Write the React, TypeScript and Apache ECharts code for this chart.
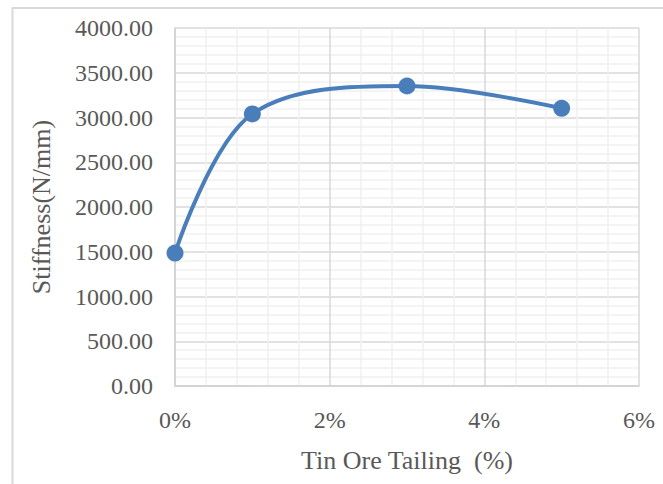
import React, { useEffect, useRef } from "react";
import * as echarts from "echarts";

const xValues = [0, 1, 3, 5];
const stiffness = [1485, 3040, 3352, 3103];
const xTicksMax = 6;
const yTicksMax = 4000;

export default function App() {
  const ref = useRef<HTMLDivElement>(null);
  useEffect(() => {
    if (!ref.current) return;
    const chart = echarts.init(ref.current, null, { renderer: "svg" });
    const font = "'Liberation Serif', 'Times New Roman', serif";
    const textColor = "#595959";
    chart.setOption({
      animation: false,
      backgroundColor: "#ffffff",
      graphic: [
        {
          type: "rect",
          shape: { x: 12.5, y: 8, width: 700, height: 520 },
          style: { fill: "none", stroke: "#d9d9d9", lineWidth: 2 },
          silent: true,
        },
      ],
      grid: { left: 175, top: 28, right: 24, bottom: 98, containLabel: false },
      xAxis: {
        type: "value",
        min: 0,
        max: xTicksMax,
        interval: 2,
        name: "Tin Ore Tailing  (%)",
        nameLocation: "middle",
        nameGap: 61,
        nameTextStyle: { fontFamily: font, fontSize: 26, color: textColor },
        axisLine: { show: true, lineStyle: { color: "#d0d0d0", width: 1.5 } },
        axisTick: { show: false },
        axisLabel: {
          formatter: (v: number) => `${v}%`,
          fontFamily: font,
          fontSize: 24,
          color: textColor,
          margin: 22,
        },
        splitLine: { show: true, lineStyle: { color: "#d9d9d9", width: 1.5 } },
        minorTick: { show: false, splitNumber: 5 },
        minorSplitLine: { show: true, lineStyle: { color: "#f0f0f0", width: 1.5 } },
      },
      yAxis: {
        type: "value",
        min: 0,
        max: yTicksMax,
        interval: 500,
        name: "Stiffness(N/mm)",
        nameLocation: "middle",
        nameGap: 121,
        nameTextStyle: { fontFamily: font, fontSize: 26, color: textColor },
        axisLine: { show: true, lineStyle: { color: "#d0d0d0", width: 1.5 } },
        axisTick: { show: false },
        axisLabel: {
          formatter: (v: number) => v.toFixed(2),
          fontFamily: font,
          fontSize: 24,
          color: textColor,
          margin: 22,
        },
        splitLine: { show: true, lineStyle: { color: "#d9d9d9", width: 1.5 } },
        minorTick: { show: false, splitNumber: 5 },
        minorSplitLine: { show: true, lineStyle: { color: "#f0f0f0", width: 1.5 } },
      },
      series: [
        {
          type: "line",
          data: xValues.map((x, i) => [x, stiffness[i]]),
          smooth: 0.35,
          symbol: "circle",
          symbolSize: 17,
          lineStyle: { color: "#4a7ebb", width: 4 },
          itemStyle: { color: "#4a7ebb" },
        },
      ],
    });
    return () => chart.dispose();
  }, []);
  return (
    <div
      ref={ref}
      style={{ position: "absolute", left: 0, top: 0, width: 663, height: 484 }}
    />
  );
}
